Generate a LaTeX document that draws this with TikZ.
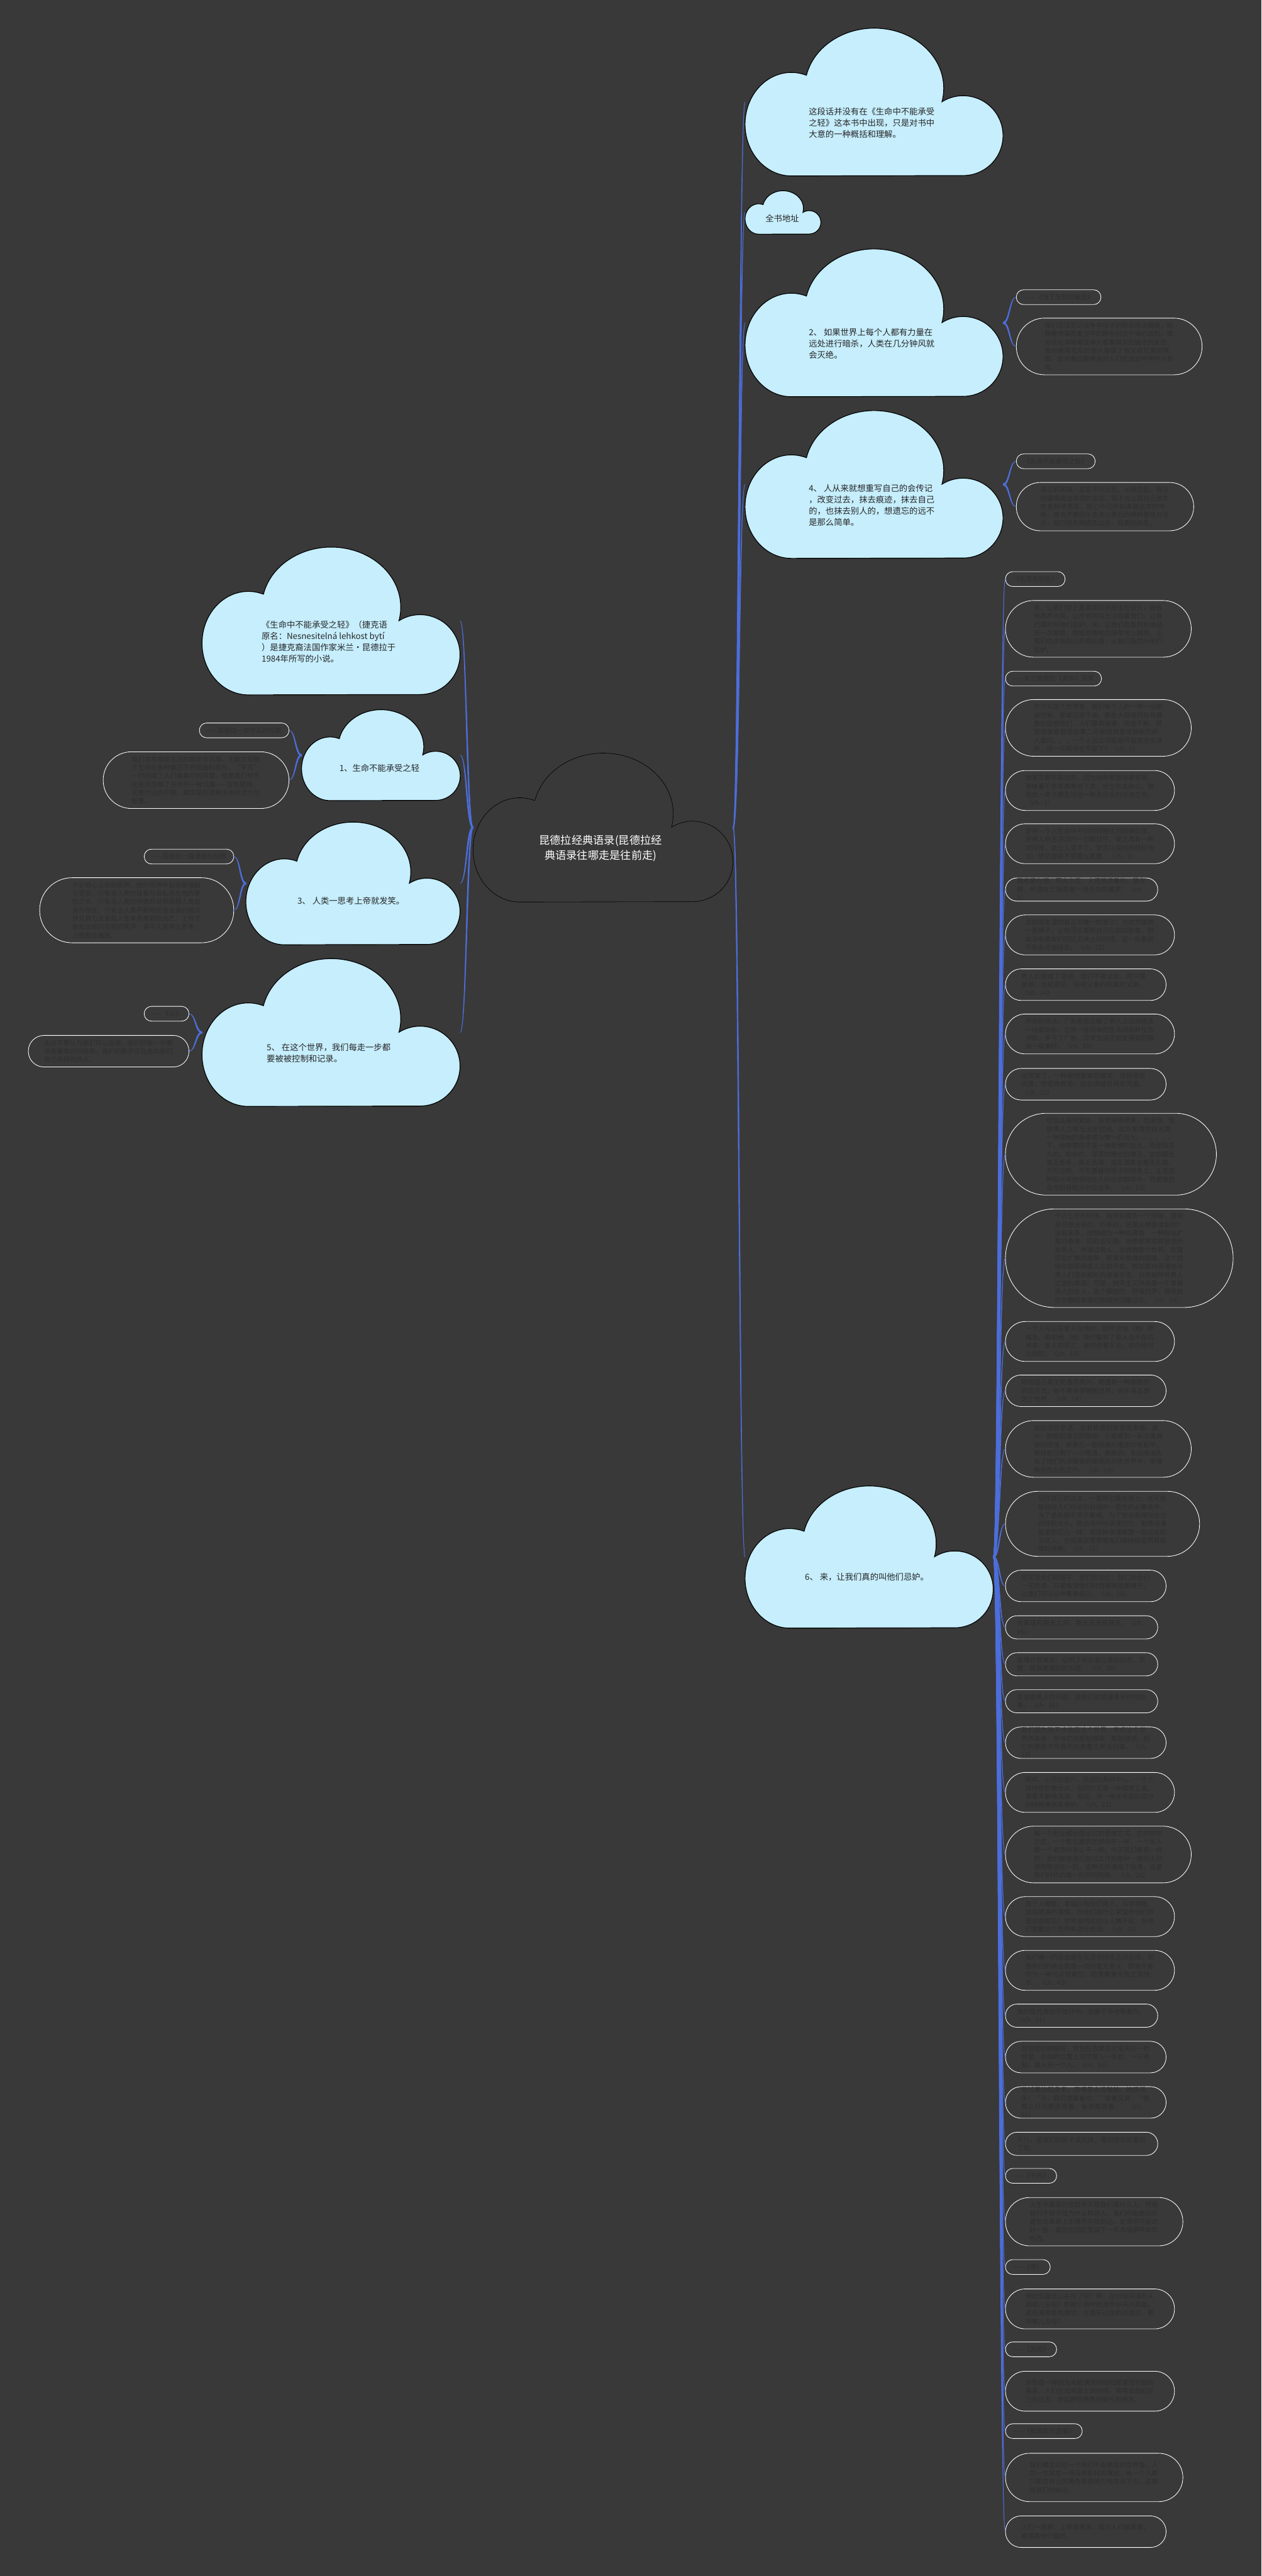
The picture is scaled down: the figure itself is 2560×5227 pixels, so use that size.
\documentclass[tikz,border=0pt]{standalone}
\usepackage{fontspec}
\setmainfont{Noto Sans CJK SC}
\usetikzlibrary{calc}
\XeTeXlinebreaklocale "zh"
\XeTeXlinebreakskip=0pt plus 1pt

\definecolor{bgdark}{HTML}{3A3939}
\definecolor{cloudblue}{HTML}{C6EEFD}
\definecolor{linkblue}{HTML}{4C6EDB}
\definecolor{cloudink}{HTML}{262626}
\definecolor{leafink}{HTML}{2F2E2E}

% cloud: #1 name, #2 left, #3 top, #4 scale, #5 outline style, #6 text style, #7 text
\newcommand{\cloudat}[7]{%
  \begin{scope}[shift={(#2,#3+300*#4)}, x=#4pt, y=#4pt]
    \filldraw[#5] (94,0)
      arc[start angle=270, end angle=71, x radius=94, y radius=105]
      arc[start angle=167.5, end angle=-13, x radius=141, y radius=122]
      arc[start angle=122, end angle=-90, radius=81] -- cycle;
  \end{scope}
  \node[#6] (#1) at (#2+257*#4, #3+192*#4) {#7};
  \coordinate (#1-w) at (#2, #3+150*#4);
  \coordinate (#1-e) at (#2+524*#4, #3+150*#4);
}

% tapered link from #2 to #3, #1 = half width at the start
\newcommand{\link}[3][1.5]{%
  \path let \p1=(#2), \p2=(#3) in \pgfextra{%
    \pgfmathsetmacro{\lkdx}{\x2>\x1 ? 1 : -1}\global\let\lkdx\lkdx
    \pgfmathsetmacro{\lkdy}{\y2>\y1 ? 1 : -1}\global\let\lkdy\lkdy};
  \filldraw[linkblue, line width=1pt] let \p1=(#2), \p2=(#3), \n1={0.5*(\x1+\x2)} in
    (\x1,\y1+#1*\lkdx*1pt) .. controls (\n1-#1*\lkdy*1pt,\y1+#1*\lkdx*1pt) and (\n1-0.4*\lkdy*1pt,\y2) .. (\p2)
    .. controls (\n1+0.4*\lkdy*1pt,\y2) and (\n1+#1*\lkdy*1pt,\y1-#1*\lkdx*1pt) .. (\x1,\y1-#1*\lkdx*1pt) -- cycle;
}

\begin{document}
\begin{tikzpicture}[x=1pt, y=-1pt,
    bluecloud/.style={fill=cloudblue, draw=black, line width=1.5pt},
    rootcloud/.style={fill=bgdark, draw=black, line width=0.8pt},
    cloudtext/.style={text=cloudink, align=left, inner sep=0pt, font=\fontsize{17}{23}\selectfont},
    roottext/.style={text=white, align=center, inner sep=0pt, font=\fontsize{22}{31}\selectfont},
    pill/.style={rectangle, draw=white, line width=1.1pt, text=leafink,
      font=\fontsize{13}{17}\selectfont, inner ysep=0pt, minimum height={17*#1+13},
      inner xsep={8.5*#1+6.5}, rounded corners={8.5*#1+6.2}},
    longpill/.style={pill=#1, text width=262pt, align=left}]

  % background
  \fill[bgdark] (0,0) rectangle (2560,5227);
  \useasboundingbox (0,0) rectangle (2560,5227);

  % centre
  \cloudat{root}{960}{1528}{1.0076}{rootcloud}{roottext}{昆德拉经典语录(昆德拉经\\典语录往哪走是往前走)}

  % right clouds
  \cloudat{cdef}{1512}{57}{1.0}{bluecloud}{cloudtext}{这段话并没有在《生命中不能承受\\之轻》这本书中出现，只是对书中\\大意的一种概括和理解。}
  \cloudat{caddr}{1512}{387}{0.294}{bluecloud}{cloudtext}{全书地址}
  \cloudat{c2}{1512}{505}{1.0}{bluecloud}{cloudtext}{2、 如果世界上每个人都有力量在\\远处进行暗杀，人类在几分钟风就\\会灭绝。}
  \cloudat{c4}{1512}{833}{1.0}{bluecloud}{cloudtext}{4、 人从来就想重写自己的会传记\\，改变过去，抹去痕迹，抹去自己\\的，也抹去别人的，想遗忘的远不\\是那么简单。}
  \cloudat{c6}{1512}{3015}{0.962}{bluecloud}{cloudtext}{6、 来，让我们真的叫他们忌妒。}

  % left clouds
  \cloudat{cintro}{410}{1110}{1.0}{bluecloud}{cloudtext}{《生命中不能承受之轻》（捷克语\\原名：Nesnesitelná lehkost bytí\\）是捷克裔法国作家米兰·昆德拉于\\1984年所写的小说。}
  \cloudat{c1}{612}{1440}{0.615}{bluecloud}{cloudtext}{1、生命不能承受之轻}
  \cloudat{c3}{499}{1668}{0.83}{bluecloud}{cloudtext}{3、 人类一思考上帝就发笑。}
  \cloudat{c5}{410}{1945}{1.0}{bluecloud}{cloudtext}{5、 在这个世界，我们每走一步都\\要被被控制和记录。}

  % notes of the left clouds
  \node[pill=1, anchor=east] (n1a) at (587,1482) {——昆德拉一部作品的标题};
  \node[longpill=6, anchor=east] (n1b) at (587,1583) {我们常常感慨生活的艰辛与沉重，无数次目睹了生命在各种重压下的扭曲和变形，“平凡”一时间成了人们最真切的渴望，但是我们却不经意间忽略了另外的一种沉重——没有期待，无需付出的平静，其实是在消耗生命的活力与智慧。};
  \node[pill=1, anchor=east] (n3a) at (475,1738) {——昆德拉一篇演讲的标题};
  \node[longpill=7, anchor=east] (n3b) at (475,1847) {不必担心上帝的笑声，他的笑声中包含着理解与宽容，只有当人类的狂妄与自私还在他的掌控之中，只有当人类的骄傲并没有超越人类自身的存在，只有当人类不断地反思自身的弱点并且努力去发现人性本质美丽的光芒，上帝才会发出他的包容的笑声，请不人类停止思考，上帝就会痛哭。};
  \node[pill=1, anchor=east] (n5a) at (384,2057) {——《认》};
  \node[longpill=3, anchor=east] (n5b) at (384,2133) {永远不要认为我们可以逃避，我们的每一步都决定着最后的结局，我们的脚步正在走向我们自己选择的终点。};

  % notes of clouds 2 and 4
  \node[pill=1, anchor=west] (n2a) at (2062,603) {—— 《为了告别的聚会》};
  \node[longpill=6, anchor=west] (n2b) at (2062,703) {我们无法忘记战争中孩子的那双纯洁眼睛，她静静地凝视着空中的那些射出子弹的战机，面对远处清晰得连弹头都看得见的城市的天空，面对着坦克车的炮火摧毁了他父母兄弟的家园，面对着四散奔逃的人们在血泊中呻吟与哀鸣……};
  \node[pill=1, anchor=west] (n4a) at (2062,936) {《生命不能承受之轻》};
  \node[longpill=5, anchor=west] (n4b) at (2062,1028) {真正的英雄，其实不问出处，从现在起，我开始谨慎地选择我的生活，我不在让我自己迷失在各种诱惑里，我心中已听到来自远方的呼唤，再也不需回头去关心身后的种种是非与议论，我已经无暇顾及过去，我要向前走。};

  % quotes of cloud 6
  \node[pill=1, anchor=west] (q1) at (2040,1175) {《生活在别处》};
  \node[longpill=6, anchor=west] (q2) at (2040,1276) {来，让我们穿上最美丽的衣服走在街头，放纵地高声大笑，让所有的目光注视着我们，让我们真的叫他们忌妒。来，让我们轰轰烈烈地经历一次爱情，甜蜜热情地在绿草地上拥抱，让我们的手指和心灵相抚摸，让我们真的叫他们忌妒。};
  \node[pill=1, anchor=west] (q3) at (2040,1377) {——米兰昆德拉《身份》语录};
  \node[longpill=6, anchor=west] (q4) at (2040,1477) {在今天这个世界里，我们每个人的一举一动都被控制，都被记录下来，那些大商场到处有摄像机监视我们，人们摩肩接踵，接连不断，甚至连做爱都会在第二天被搞调查或做研究的人盘问。。。一个人怎么可能避开监视完全消失，连一点痕迹也不留下？（ch. 1）};
  \node[longpill=4, anchor=west] (q5) at (2040,1604) {她甚至都不能自杀，因为自杀就意味着背叛，意味着不愿意再等待下去，完全失去耐心。她将会一辈子都生活在一种无尽头的可怕之中。（ch. 1）};
  \node[longpill=4, anchor=west] (q6) at (2040,1712) {梦将一个人生命中不同的时期化为同等价值，并将人所生活过的一切都拉平，使之具有一种同时性，这让人受不了，梦否认现时的特权地位，使它显得不是那么重要。（ch. 2）};
  \node[longpill=2, anchor=west] (q7) at (2040,1805) {我老是在想，死去之后，人还是活着的。我在想，所谓死亡就是做一场无尽的噩梦。（ch. 3）};
  \node[longpill=4, anchor=west] (q8) at (2040,1897) {这就是友谊的真正与惟一的意义：为对方提供一面镜子，让他可以看到自己以前的形象，假如没有朋友们回忆无休止的叨唠，这一形象就可能永远被抹去。（ch. 12）};
  \node[longpill=3, anchor=west] (q9) at (2040,1998) {男人们都成了爸爸，他们不是父亲，而只是爸爸，也就是说，没有父亲的权威的父亲。（ch. 14）};
  \node[longpill=4, anchor=west] (q10) at (2040,2098) {照他的说法，广告就是在输了很久之后完成这一诗歌目标，它将一些简单的生活用品转化为诗歌，多亏了广告，日常生活开始变得如同歌曲一般美好。（ch. 10）};
  \node[longpill=3, anchor=west] (q11) at (2040,2200) {他笑笑了，一种表明距离的微笑，这样很有风度，你若有权势，就必须越显得有风度。（ch. 10）};
  \node[longpill=9, anchor=west] (q12) at (2040,2342) {他怎么说他爱她，说觉得她很美，也没用。他那情人之眼无法安慰她。因为爱情的目光是一种使她的身体成为惟一的目光。。。。。。不，她需要的不是一种爱情的目光，而是陌生人的、粗俗的、淫荡的眼光的淹没，这些眼光毫无善意，毫无选择，毫无温柔也毫无礼貌，不可逃脱，不可置疑地投注到她身上，正是这种目光将她保持在人的社会群体中，而爱情的目光则将她从中拉出来。（ch. 13）};
  \node[longpill=11, anchor=west] (q13) at (2040,2553) {十六七岁的时候，她特别喜欢一个隐喻，是她自己想出来的，听来的，还是从哪里读到的？没有关系，她想成为一种玫瑰香，一种四处扩散的香味，四处去征服。她希望就这样穿透所有男人，并通过男人，去拥抱整个世界。玫瑰四处扩散的香味：那是对艳遇的隐喻，这个隐喻在她即将成人之前开放，犹如是对浪漫她与男人们混杂相处的浪漫许诺，对穿越所有男人之旅的邀请。可是，她天生又并非是一个常换情人的女人，这个朦胧的、抒情的梦，很快就在宁静而幸福的婚姻中沉睡过去。（ch. 14）};
  \node[longpill=4, anchor=west] (q14) at (2040,2722) {一个人可以在爱人在场时，因怀念他（她）而痛苦，假如他（她）隐约看到了爱人会不在的将来；爱人的死亡，虽然还看不见，却已经可以感知。（ch. 14）};
  \node[longpill=3, anchor=west] (q15) at (2040,2822) {她因自己毫无艳遇而高兴。艳遇是一种拥抱世界的方式，她不再希望拥抱世界，她不再去想这个世界。（ch. 14）};
  \node[longpill=6, anchor=west] (q16) at (2040,2940) {她因没有艳遇，没有艳遇的欲望而幸福，高兴，她想起自己的隐喻，于是看到一朵迅速凋谢的玫瑰，就像在一部快镜头播放的电影中，很快就只剩下一小根茎，黑黑的，永远地消失在了他们共进晚餐的夜晚的白色世界中：玫瑰融化在白色之中。（ch. 14）};
  \node[longpill=7, anchor=west] (q17) at (2040,3092) {记住自己的过去，一直将它藏在身上，这可能是保持人们所说的自我的一贯性的必要条件。为了使自我不至于萎缩，为了使自我保持住它的体积大小，就必须时时浇灌记忆，就像浇灌盆里的花儿一样，而这种浇灌需要一些过去的见证人，也就是说需要朋友们保持固定而有规律的接触。（ch. 16）};
  \node[longpill=3, anchor=west] (q18) at (2040,3218) {朋友是我们的镜子，我们的记忆；我们对他们一无所求，只是希望他们时而擦亮这面镜子，让我们可以从中看看自己。（ch. 16）};
  \node[longpill=2, anchor=west] (q19) at (2040,3302) {在真理和朋友之间，我永远选择朋友。（ch. 16）};
  \node[longpill=2, anchor=west] (q20) at (2040,3377) {友情对我来说，证明了存在着比意识形态、宗教、民族更强烈的东西。（ch. 16）};
  \node[longpill=2, anchor=west] (q21) at (2040,3452) {友谊是男人的问题，是他们的浪漫青年时代的事。（ch. 16）};
  \node[longpill=3, anchor=west] (q22) at (2040,3536) {我们因为孩子才依恋这个世界，考虑这个世界的未来，参与它的那些喧哗、那些骚动，把它的那些不可救药的愚蠢之举当回事。（ch. 19）};
  \node[longpill=4, anchor=west] (q23) at (2040,3637) {眼睛，心灵的窗户，脸部的美的中心，一个个体特性的聚合点；但同时又是一种视觉工具，需要不断地洗涤、滋润，用一种含有盐的成分的特殊液体来保护。（ch. 21）};
  \node[longpill=6, anchor=west] (q24) at (2040,3763) {每一个职业都创造出它的思维方式，它的存在方式，一个医生跟农民想的不一样，一个军人跟一个老师的举止不一样。今天我们都是一样的，我们都被我们面对工作的那种一致的无所谓而联合在一起，这种无所谓成了热情，这是我们时代的惟一的共同热情。（ch. 26）};
  \node[longpill=4, anchor=west] (q25) at (2040,3889) {两个人相爱，幸福只有他们两人，与世隔绝，这是很美的事情。但他们用什么来滋养他们的面对面相见？世界虽然实在让人瞧不起，但他们需要这个世界来进行谈话。（ch. 26）};
  \node[longpill=4, anchor=west] (q26) at (2040,3998) {我们唯一的自由是在苦涩与快乐之间选择。既然我们的命运就是一切的毫无意义，那就不能作为一种污点带着它，而是要善于因之而快乐。（ch. 43）};
  \node[longpill=2, anchor=west] (q27) at (2040,4090) {我的目光再也不放开你。我要不停地看着你。（ch. 51）};
  \node[longpill=3, anchor=west] (q28) at (2040,4174) {我怕我的眼睛眨，我怕在我那目光熄灭的一秒钟里，在你的位置上突然溜入一条蛇，一只老鼠，溜入另一个人。（ch. 51）};
  \node[longpill=3, anchor=west] (q29) at (2040,4266) {他试着抬起身来，用嘴唇去接触她。她摇摇头：“不，我只想看着你。”接着又说：“我要让灯光整夜亮着，每夜都亮着。”（ch. 51）};
  \node[longpill=2, anchor=west] (q30) at (2040,4350) {不行，是我们的影子或兄妹，看到他也就看到了她。};
  \node[pill=1, anchor=west] (q31) at (2040,4415) {——《不朽》};
  \node[longpill=5, anchor=west] (q32) at (2040,4508) {人生中痛苦的东西并不是我们是什么人，而是我们不得不成为什么样的人，我们所能做的只是在这条路上走得尽可能的远，走得尽可能的好一些，最后在回忆里留下一点点值得怀念的东西。};
  \node[pill=1, anchor=west] (q33) at (2040,4600) {——《慢》};
  \node[longpill=4, anchor=west] (q34) at (2040,4685) {慢的乐趣怎么失传了呢？啊，古时候闲荡的人到哪儿去啦？民歌小调中的游手好闲的英雄，这些漫游各地磨坊，在露天过夜的流浪汉，都到哪儿去啦？};
  \node[pill=1, anchor=west] (q35) at (2040,4767) {——《无知》};
  \node[longpill=4, anchor=west] (q36) at (2040,4852) {乡愁是一种因为未能满足的回归愿望而引起的痛苦，人们在远离故土的时候，常常会想起自己的过去，想起那些熟悉的面孔和地方。};
  \node[pill=1, anchor=west] (q37) at (2040,4933) {——《被背叛的遗嘱》};
  \node[longpill=5, anchor=west] (q38) at (2040,5027) {我们都生活在一个我们不能确定的世界里，人的一生就是一场没有彩排的演出，每一个人都只能在自己的角色里面努力地生活下去，这就是我们的命运。};
  \node[longpill=3, anchor=west] (q39) at (2040,5137) {人们一思索，上帝就发笑，因为人们越思索，真理离他们越远。};

  % links from the centre
  \link[2]{root-e}{cdef-w}
  \link[2]{root-e}{caddr-w}
  \link[2]{root-e}{c2-w}
  \link[2]{root-e}{c4-w}
  \link[2]{root-e}{c6-w}
  \link[2]{root-w}{cintro-e}
  \link[2]{root-w}{c1-e}
  \link[2]{root-w}{c3-e}
  \link[2]{root-w}{c5-e}

  % links to the notes
  \link{c1-w}{n1a.east}
  \link{c1-w}{n1b.east}
  \link{c3-w}{n3a.east}
  \link{c3-w}{n3b.east}
  \link{c5-w}{n5a.east}
  \link{c5-w}{n5b.east}
  \link{c2-e}{n2a.west}
  \link{c2-e}{n2b.west}
  \link{c4-e}{n4a.west}
  \link{c4-e}{n4b.west}
  \foreach \i in {1,...,39} {\link{c6-e}{q\i.west}}
\end{tikzpicture}
\end{document}
